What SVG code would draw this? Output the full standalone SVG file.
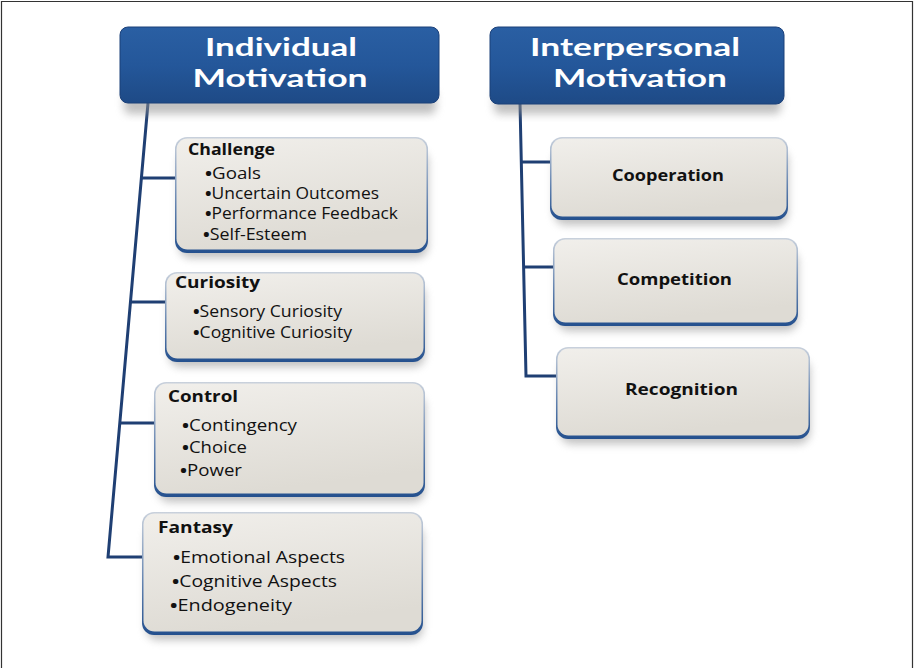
<svg xmlns="http://www.w3.org/2000/svg" width="914" height="668" viewBox="0 0 914 668">
<defs>
  <linearGradient id="hdrFill" x1="0" y1="0" x2="0" y2="1">
    <stop offset="0" stop-color="#2A5FA3"/>
    <stop offset="0.5" stop-color="#24579A"/>
    <stop offset="1" stop-color="#1E4A86"/>
  </linearGradient>
  <linearGradient id="boxFill" x1="0" y1="0" x2="0.3" y2="1">
    <stop offset="0" stop-color="#F1EFEB"/>
    <stop offset="1" stop-color="#DEDBD4"/>
  </linearGradient>
  <linearGradient id="rimFill" x1="0" y1="0" x2="0" y2="1">
    <stop offset="0" stop-color="#C9D1DC"/>
    <stop offset="0.6" stop-color="#5F80AE"/>
    <stop offset="1" stop-color="#24508E"/>
  </linearGradient>
  <filter id="shadow" x="-10%" y="-10%" width="120%" height="140%">
    <feGaussianBlur stdDeviation="4"/>
  </filter>
</defs>
<style>
  .frame { fill: none; stroke: #333; stroke-width: 1.2; }
  .conn { fill: none; stroke: #1F3F73; stroke-width: 3; stroke-linejoin: miter; }
  .hdr { fill: url(#hdrFill); stroke: #1B4079; stroke-width: 1; }
  .shd { fill: #8E8E8E; opacity: 0.55; filter: url(#shadow); }
  .rim { fill: url(#rimFill); }
  .box { fill: url(#boxFill); }
  .htxt { font-family: Lato, "Open Sans", "Liberation Sans", sans-serif; font-weight: 700; font-size: 25.5px; fill: #FFFFFF; text-anchor: middle; }
  .ttl { font-family: "Open Sans", "Liberation Sans", sans-serif; font-weight: 700; font-size: 16px; fill: #111; }
  .itm { font-family: "Open Sans", "Liberation Sans", sans-serif; font-weight: 400; font-size: 15.5px; fill: #111; }
  .b { font-weight: 700; }
  .ctr { font-family: "Open Sans", "Liberation Sans", sans-serif; font-weight: 700; font-size: 16px; fill: #111; text-anchor: middle; }
</style>

<path class="frame" d="M1.5,668 V1.5 H912.5 V668"/>

<g id="connectors">
  <path class="conn" d="M148,103 L108,557 H143"/>
  <path class="conn" d="M141.4,178 H175"/>
  <path class="conn" d="M130.5,302 H165"/>
  <path class="conn" d="M119.8,423 H154"/>
  <path class="conn" d="M520,103 L526,376 H556"/>
  <path class="conn" d="M521.3,162 H550"/>
  <path class="conn" d="M523.6,267 H553"/>
</g>

<g id="individual-motivation">
  <rect class="shd" x="124" y="90" width="312" height="24" rx="6"/>
  <rect class="hdr" x="120" y="27" width="319" height="76" rx="8"/>
  <text class="htxt" x="281" y="56" textLength="152" lengthAdjust="spacingAndGlyphs">Individual</text>
  <text class="htxt" x="280" y="87" textLength="175" lengthAdjust="spacingAndGlyphs">Motivation</text>
</g>

<g id="interpersonal-motivation">
  <rect class="shd" x="494" y="90" width="287" height="24" rx="6"/>
  <rect class="hdr" x="490" y="27" width="294" height="77" rx="8"/>
  <text class="htxt" x="635" y="56" textLength="210" lengthAdjust="spacingAndGlyphs">Interpersonal</text>
  <text class="htxt" x="640" y="87" textLength="174" lengthAdjust="spacingAndGlyphs">Motivation</text>
</g>

<g id="challenge">
  <rect class="shd" x="179" y="150" width="249" height="108" rx="12"/>
  <rect class="rim" x="175" y="137" width="253" height="116" rx="12"/>
  <rect class="box" x="176.5" y="138.5" width="250" height="111" rx="11"/>
  <text class="ttl" x="188" y="155" textLength="87" lengthAdjust="spacingAndGlyphs">Challenge</text>
  <text class="itm" x="205" y="179" textLength="56" lengthAdjust="spacingAndGlyphs"><tspan class="b">•</tspan>Goals</text>
  <text class="itm" x="205" y="199" textLength="174" lengthAdjust="spacingAndGlyphs"><tspan class="b">•</tspan>Uncertain Outcomes</text>
  <text class="itm" x="205" y="219" textLength="193" lengthAdjust="spacingAndGlyphs"><tspan class="b">•</tspan>Performance Feedback</text>
  <text class="itm" x="203" y="240" textLength="104" lengthAdjust="spacingAndGlyphs"><tspan class="b">•</tspan>Self-Esteem</text>
</g>

<g id="curiosity">
  <rect class="shd" x="169" y="284" width="256" height="83" rx="12"/>
  <rect class="rim" x="165" y="272" width="260" height="90" rx="12"/>
  <rect class="box" x="166.5" y="273.5" width="257" height="85" rx="11"/>
  <text class="ttl" x="175" y="288" textLength="85" lengthAdjust="spacingAndGlyphs">Curiosity</text>
  <text class="itm" x="193" y="317" textLength="149" lengthAdjust="spacingAndGlyphs"><tspan class="b">•</tspan>Sensory Curiosity</text>
  <text class="itm" x="193" y="338" textLength="159" lengthAdjust="spacingAndGlyphs"><tspan class="b">•</tspan>Cognitive Curiosity</text>
</g>

<g id="control">
  <rect class="shd" x="158" y="395" width="267" height="107" rx="12"/>
  <rect class="rim" x="154" y="382" width="271" height="115" rx="12"/>
  <rect class="box" x="155.5" y="383.5" width="268" height="110" rx="11"/>
  <text class="ttl" x="168" y="402" textLength="70" lengthAdjust="spacingAndGlyphs">Control</text>
  <text class="itm" x="182" y="431" textLength="115" lengthAdjust="spacingAndGlyphs"><tspan class="b">•</tspan>Contingency</text>
  <text class="itm" x="182" y="453" textLength="65" lengthAdjust="spacingAndGlyphs"><tspan class="b">•</tspan>Choice</text>
  <text class="itm" x="180" y="476" textLength="62" lengthAdjust="spacingAndGlyphs"><tspan class="b">•</tspan>Power</text>
</g>

<g id="fantasy">
  <rect class="shd" x="146" y="525" width="277" height="115" rx="12"/>
  <rect class="rim" x="142" y="512" width="281" height="123" rx="12"/>
  <rect class="box" x="143.5" y="513.5" width="278" height="118" rx="11"/>
  <text class="ttl" x="158" y="533" textLength="75" lengthAdjust="spacingAndGlyphs">Fantasy</text>
  <text class="itm" x="173" y="563" textLength="172" lengthAdjust="spacingAndGlyphs"><tspan class="b">•</tspan>Emotional Aspects</text>
  <text class="itm" x="172" y="587" textLength="165" lengthAdjust="spacingAndGlyphs"><tspan class="b">•</tspan>Cognitive Aspects</text>
  <text class="itm" x="170" y="611" textLength="122" lengthAdjust="spacingAndGlyphs"><tspan class="b">•</tspan>Endogeneity</text>
</g>

<g id="cooperation">
  <rect class="shd" x="554" y="149" width="234" height="76" rx="12"/>
  <rect class="rim" x="550" y="137" width="238" height="83" rx="12"/>
  <rect class="box" x="551.5" y="138.5" width="235" height="78" rx="11"/>
  <text class="ctr" x="668" y="181" textLength="112" lengthAdjust="spacingAndGlyphs">Cooperation</text>
</g>

<g id="competition">
  <rect class="shd" x="557" y="250" width="241" height="81" rx="12"/>
  <rect class="rim" x="553" y="238" width="245" height="88" rx="12"/>
  <rect class="box" x="554.5" y="239.5" width="242" height="83" rx="11"/>
  <text class="ctr" x="674.5" y="285" textLength="115" lengthAdjust="spacingAndGlyphs">Competition</text>
</g>

<g id="recognition">
  <rect class="shd" x="560" y="359" width="250" height="85" rx="12"/>
  <rect class="rim" x="556" y="347" width="254" height="92" rx="12"/>
  <rect class="box" x="557.5" y="348.5" width="251" height="87" rx="11"/>
  <text class="ctr" x="681.5" y="395" textLength="113" lengthAdjust="spacingAndGlyphs">Recognition</text>
</g>
</svg>
